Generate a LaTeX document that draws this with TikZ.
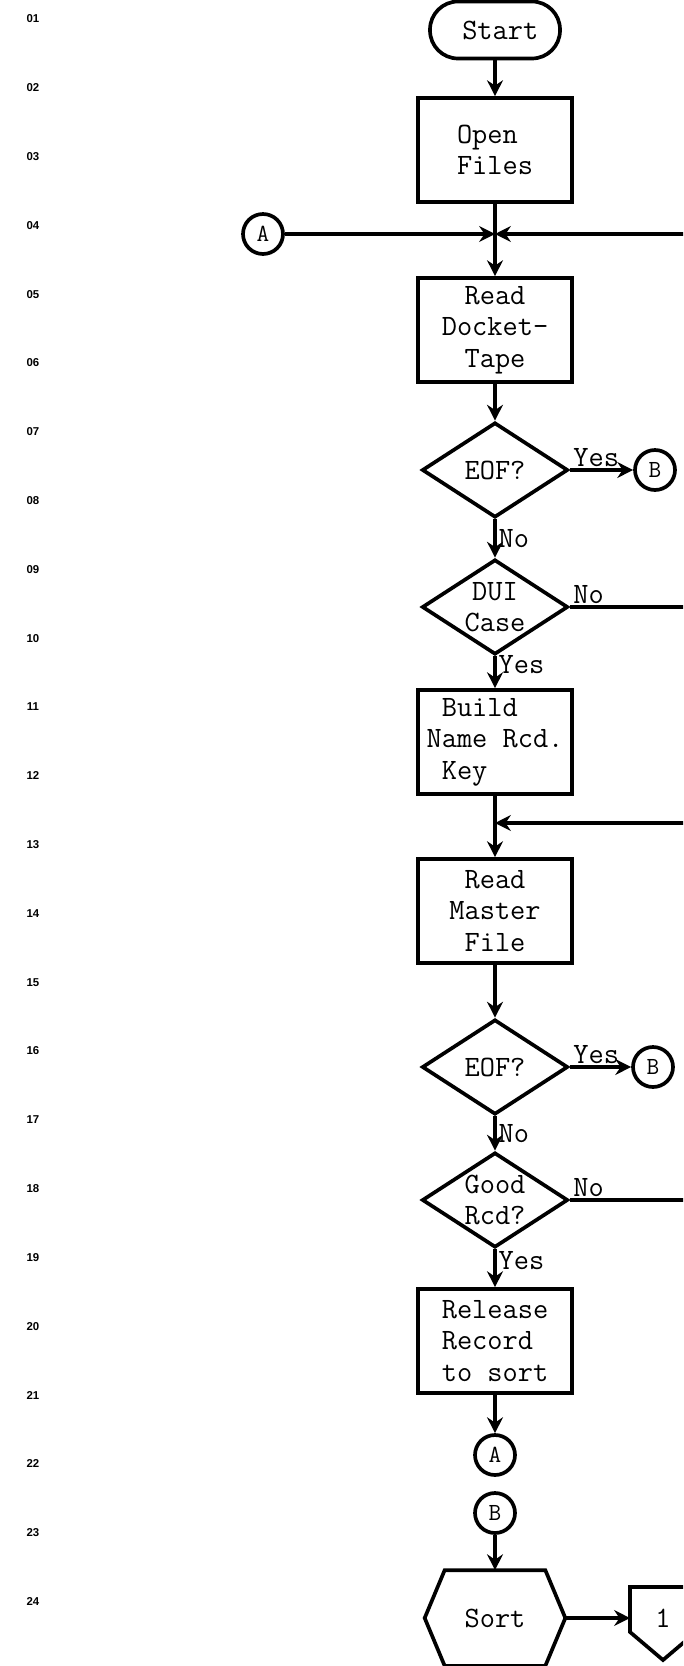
\documentclass[tikz,border=0pt]{standalone}
\usepackage{fontspec}
\setmainfont{Liberation Serif}
\newfontfamily\numfont{Liberation Sans}
\usetikzlibrary{shapes.geometric,arrows.meta}

\begin{document}
\begin{tikzpicture}[x=0.02cm, y=-0.02cm, line width=2.1pt,
  every node/.style={font=\ttfamily\fontsize{16.8}{18}\selectfont},
  term/.style={draw,rounded corners=0.56cm,minimum width=2.6cm,minimum height=1.14cm},
  proc/.style={draw,minimum width=3.08cm,minimum height=2.08cm,align=center,inner sep=1pt},
  dec/.style={draw,diamond,minimum width=2.92cm,minimum height=1.9cm,inner sep=0pt,align=center,aspect=1.55},
  conn/.style={draw,circle,minimum size=0.8cm,inner sep=0pt,font=\ttfamily\fontsize{14}{16}\selectfont},
  flow/.style={-{Stealth[length=9pt,width=9pt,inset=3pt]}},
  lbl/.style={inner sep=1pt},
  lnum/.style={font=\numfont\bfseries\fontsize{6.5}{8}\selectfont}]
\useasboundingbox (0,0) rectangle (683,1666);
\clip (0,0) rectangle (683,1666);
\foreach \i in {1,...,24}
  \node[lnum] (n\i) at (33,{19+68.8*(\i-1)}) {\ifnum\i<10 0\fi\i};
\node[term] (start) at (495,30) {\hspace{6pt}Start};
\node[proc,align=left] (openf) at (495,150) {Open\\Files};
\node[conn] (a1) at (263,234) {A};
\coordinate (jn1) at (495,234);
\coordinate (rt1) at (690,234);
\node[proc] (readdt) at (495,330) {Read\\Docket-\\Tape};
\node[dec] (eof1) at (495,470) {EOF?};
\node[conn] (b1) at (655,470) {B};
\node[dec] (dui) at (495,607) {DUI\\Case};
\coordinate (rt2) at (690,607);
\node[proc,align=left] (build) at (495,742) {\hphantom{N}Build\\Name Rcd.\\\hphantom{N}Key};
\coordinate (jn2) at (495,823);
\coordinate (rt3) at (690,823);
\node[proc] (readmf) at (495,911) {Read\\Master\\File};
\node[dec] (eof2) at (495,1067) {EOF?};
\node[conn] (b2) at (653,1067) {B};
\node[dec] (good) at (495,1200) {Good\\Rcd?};
\coordinate (rt4) at (690,1200);
\node[proc,align=left] (release) at (495,1341) {Release\\Record\\to sort};
\node[conn] (a2) at (495,1455) {A};
\node[conn] (b3) at (495,1513) {B};
\node[minimum width=2.74cm,minimum height=1.84cm] (sort) at (495,1618) {Sort};
\draw (sort.west) -- ([xshift=0.4cm]sort.north west) -- ([xshift=-0.4cm]sort.north east)
  -- (sort.east) -- ([xshift=-0.4cm]sort.south east) -- ([xshift=0.4cm]sort.south west) -- cycle;
\node (off1) at (663,1618) {1};
\coordinate (off1in) at (630,1618);
\draw (off1in) -- +(0,-31) -- +(66,-31) -- +(66,14) -- +(33,42) -- +(0,14) -- cycle;
\draw[flow] (start) -- (openf);
\draw[flow] (openf) -- (readdt);
\draw[flow] (a1) -- (jn1);
\draw[flow] (rt1) -- (jn1);
\draw[flow] (readdt) -- (eof1);
\draw[flow] (eof1) -- (b1) node[pos=0,above right,lbl] {Yes};
\draw[flow] (eof1) -- (dui) node[midway,right,lbl] {No};
\draw (dui) -- (rt2) node[pos=0,above right,lbl] {No};
\draw[flow] (dui) -- (build) node[pos=0.25,right,lbl] {Yes};
\draw[flow] (build) -- (readmf);
\draw[flow] (rt3) -- (jn2);
\draw[flow] (readmf) -- (eof2);
\draw[flow] (eof2) -- (b2) node[pos=0,above right,lbl] {Yes};
\draw[flow] (eof2) -- (good) node[midway,right,lbl] {No};
\draw (good) -- (rt4) node[pos=0,above right,lbl] {No};
\draw[flow] (good) -- (release) node[pos=0.3,right,lbl] {Yes};
\draw[flow] (release) -- (a2);
\draw[flow] (b3) -- (sort);
\draw[flow] (sort) -- (off1in);
\end{tikzpicture}
\end{document}
